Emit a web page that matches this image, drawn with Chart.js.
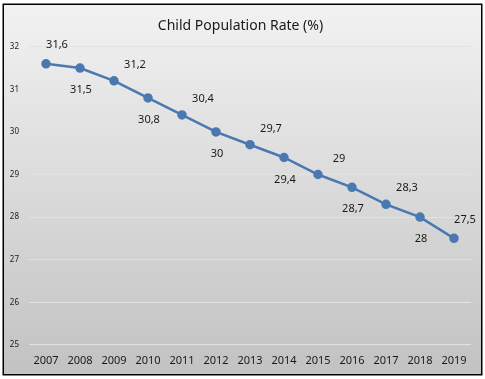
<!DOCTYPE html>
<html>
<head>
<meta charset="utf-8">
<script src="https://cdn.jsdelivr.net/npm/chart.js@4"></script>
<style>
html,body{margin:0;padding:0;background:#fff;}
#wrap{width:485px;height:379px;position:relative;}
</style>
</head>
<body>
<div id="wrap"><canvas id="c" width="485" height="379"></canvas></div>
<script>
const years = ['2007','2008','2009','2010','2011','2012','2013','2014','2015','2016','2017','2018','2019'];
const rates = [31.6, 31.5, 31.2, 30.8, 30.4, 30.0, 29.7, 29.4, 29.0, 28.7, 28.3, 28.0, 27.5];
const rateLabels = ['31,6','31,5','31,2','30,8','30,4','30','29,7','29,4','29','28,7','28,3','28','27,5'];
const titleText = 'Child Population Rate (%)';

const bgPlugin = {
  id: 'bg',
  beforeDraw(chart) {
    const ctx = chart.ctx;
    ctx.save();
    ctx.fillStyle = '#ffffff';
    ctx.fillRect(0, 0, chart.width, chart.height);
    const g = ctx.createLinearGradient(0, 4, 0, 375);
    g.addColorStop(0, '#f2f2f2');
    g.addColorStop(1, '#c2c2c2');
    ctx.fillStyle = g;
    ctx.fillRect(3, 4, 479, 371);
    ctx.lineWidth = 1.5;
    ctx.strokeStyle = '#000000';
    ctx.strokeRect(3.25, 4.25, 478.5, 370.5);
    ctx.restore();
  }
};

const labelPlugin = {
  id: 'vlabels',
  afterDatasetsDraw(chart) {
    const ctx = chart.ctx;
    const meta = chart.getDatasetMeta(0);
    const n = meta.data.length;
    ctx.save();
    ctx.font = '11px "Noto Sans"';
    ctx.fillStyle = '#1a1a1a';
    ctx.textAlign = 'center';
    ctx.textBaseline = 'middle';
    meta.data.forEach((pt, i) => {
      let dx, dy;
      if (i % 2 === 0) { dx = 21; dy = -16; } else { dx = 1; dy = 22; }
      if (i === 0 || i === n - 1) { dx = 11; dy = -19; }
      ctx.fillText(rateLabels[i], pt.x + dx, pt.y + dy);
    });
    ctx.restore();
  }
};

new Chart(document.getElementById('c'), {
  type: 'line',
  data: {
    labels: years,
    datasets: [{
      data: rates,
      borderColor: '#4a78b0',
      backgroundColor: '#4a78b0',
      borderWidth: 2.5,
      pointRadius: 3.5,
      pointHoverRadius: 3.5,
      tension: 0,
      fill: false
    }]
  },
  options: {
    responsive: false,
    animation: false,
    layout: { padding: { top: 6, left: 10, right: 14, bottom: 11 } },
    plugins: {
      legend: { display: false },
      tooltip: { enabled: false },
      title: {
        display: true,
        text: titleText,
        color: '#1a1a1a',
        font: { family: 'Noto Sans', size: 14, weight: 'normal' },
        padding: { top: 12, bottom: 12 }
      }
    },
    scales: {
      x: {
        offset: true,
        grid: { display: false },
        border: { display: false },
        ticks: { color: '#1a1a1a', font: { family: 'Noto Sans', size: 11 }, padding: 1, maxRotation: 0 }
      },
      y: {
        min: 25, max: 32,
        afterFit(scale) { scale.width = 19; },
        ticks: { stepSize: 1, color: '#1a1a1a', font: { family: 'Noto Sans', size: 8 }, padding: 10 },
        grid: { color: '#e2e2e2', lineWidth: 1, drawTicks: false },
        border: { display: false }
      }
    }
  },
  plugins: [bgPlugin, labelPlugin]
});
</script>
</body>
</html>
